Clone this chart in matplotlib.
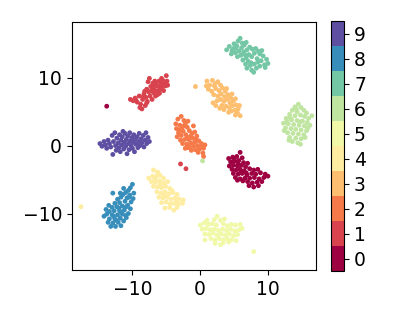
import numpy as np
import matplotlib
matplotlib.use("Agg")
import matplotlib.pyplot as plt

# embedding points, one list per digit label
pts_0 = [(5.9,-1.0),(4.2,-1.9),(4.8,-1.7),(5.4,-1.6),(6.2,-1.8),(4.5,-2.4),(5.1,-2.3),(5.7,-2.2),(6.4,-2.5),
         (7.0,-2.6),(4.3,-3.0),(4.9,-2.9),(5.5,-3.0),(6.1,-2.9),(6.7,-3.1),(4.7,-3.5),(5.3,-3.6),(5.9,-3.5),
         (6.5,-3.7),(7.3,-3.4),(7.9,-3.6),(8.5,-3.5),(4.9,-4.1),(5.6,-4.2),(6.2,-4.1),(6.9,-4.3),(7.6,-4.1),
         (8.2,-4.2),(8.9,-4.0),(9.6,-4.2),(5.2,-4.7),(5.9,-4.9),(6.6,-4.8),(7.3,-4.8),(8.0,-4.7),(8.7,-4.9),
         (9.4,-4.7),(10.0,-4.5),(6.3,-5.2),(7.0,-5.3),(7.7,-5.5),(8.4,-5.4),(9.1,-5.3),(7.9,-6.1),(8.6,-5.9),
         (5.5,-5.1),(6.0,-3.9),(5.0,-2.0),(6.8,-4.0),(7.2,-5.9),(5.6,-2.7),(-13.8,5.8)]
pts_1 = [(-10.3,6.8),(-9.9,6.6),(-9.6,7.0),(-9.3,6.4),(-9.0,7.3),(-8.8,6.1),(-8.6,5.4),(-8.5,6.8),(-8.3,7.6),
         (-8.1,5.9),(-8.0,7.1),(-7.9,8.3),(-7.8,6.5),(-7.6,7.9),(-7.5,9.9),(-7.4,7.3),(-7.3,8.7),(-7.1,6.8),
         (-7.0,9.2),(-6.9,7.8),(-6.8,8.4),(-6.6,7.3),(-6.5,9.0),(-6.4,8.0),(-6.2,8.7),(-6.1,9.5),(-6.0,7.7),
         (-5.9,8.3),(-5.8,9.1),(-5.6,8.6),(-5.5,9.6),(-5.4,8.1),(-5.3,9.2),(-5.1,8.8),(-5.0,10.3),(-4.9,9.5),
         (-4.8,8.9),(-7.7,9.4),(-8.2,8.0),(-6.7,9.5),(-7.2,8.1),(-9.5,6.7),(-8.9,5.6),(-6.3,7.5),(-5.7,9.9),
         (-6.9,8.9),(-7.9,6.3),(-8.4,7.2),(-2.9,-2.7),(-2.1,-3.4)]
pts_2 = [(-3.3,3.9),(-2.8,4.3),(-2.4,3.7),(-3.6,3.2),(-3.0,3.0),(-2.2,3.2),(-1.8,3.6),(-3.5,2.5),(-2.7,2.6),
         (-1.9,2.7),(-3.2,1.9),(-2.5,2.1),(-1.6,2.2),(-1.0,2.9),(-3.4,1.3),(-2.8,1.5),(-2.1,1.6),(-1.4,1.4),
         (-0.8,2.0),(-2.9,0.8),(-2.3,0.9),(-1.7,0.9),(-1.1,1.1),(-0.5,1.4),(-2.6,0.3),(-2.0,0.2),(-1.4,0.4),
         (-0.8,0.5),(-0.2,0.7),(-2.2,-0.4),(-1.6,-0.2),(-1.0,-0.1),(-0.4,0.0),(0.2,0.3),(-1.3,-0.7),(-0.7,-0.6),
         (-0.1,-0.5),(0.5,-0.4),(-0.3,-1.0),(0.4,-1.1),(0.5,-1.6),(-1.9,1.2),(-2.4,2.9),(-1.2,1.8),(0.1,-0.2),
         (-3.1,2.3),(-0.6,0.9),(-1.8,-0.3),(0.7,0.1)]
pts_3 = [(-0.7,8.7),(1.0,9.5),(1.4,8.9),(1.8,9.6),(2.2,9.1),(2.6,9.4),(3.0,8.9),(1.2,8.3),(1.7,8.0),(2.3,8.4),
         (2.8,8.1),(3.3,8.5),(3.7,8.0),(2.0,7.5),(2.6,7.3),(3.1,7.6),(3.6,7.2),(4.1,7.5),(4.5,7.0),(1.9,6.3),
         (2.5,6.6),(3.0,6.8),(3.5,6.5),(4.0,6.8),(4.4,6.3),(4.9,6.6),(3.2,5.9),(3.8,5.8),(4.3,5.6),(4.8,5.9),
         (5.3,6.0),(5.6,5.4),(4.6,5.1),(5.1,5.2),(5.5,4.8),(5.9,4.4),(4.2,4.9),(3.5,5.3),(5.2,4.5),(2.3,5.9),
         (0.9,8.8),(2.1,8.8),(3.9,8.4),(4.7,7.6),(5.2,6.9),(5.8,5.9),(2.9,5.5)]
pts_4 = [(-6.9,-3.6),(-6.3,-3.9),(-7.6,-4.8),(-7.0,-4.5),(-6.5,-4.6),(-5.9,-4.4),(-5.4,-4.8),(-7.2,-5.3),
         (-6.6,-5.4),(-6.0,-5.2),(-5.4,-5.5),(-4.8,-5.3),(-6.9,-6.0),(-6.3,-6.1),(-5.7,-6.2),(-5.1,-6.0),
         (-4.5,-6.3),(-6.4,-6.8),(-5.8,-7.0),(-5.2,-6.8),(-4.6,-7.1),(-4.0,-6.9),(-3.4,-7.2),(-6.1,-7.6),
         (-5.5,-7.7),(-4.9,-7.6),(-4.3,-7.9),(-3.7,-7.7),(-3.1,-7.9),(-2.5,-8.0),(-5.7,-8.4),(-5.0,-8.3),
         (-4.4,-8.6),(-3.8,-8.5),(-3.2,-8.6),(-2.6,-8.5),(-5.2,-9.2),(-4.5,-9.1),(-3.9,-9.5),(-3.4,-9.1),
         (-6.7,-5.0),(-5.9,-5.8),(-4.2,-6.6),(-3.5,-8.2),(-5.3,-7.3),(-6.2,-4.1),(-17.6,-9.0)]
pts_5 = [(2.5,-10.4),(2.1,-10.9),(3.0,-11.0),(0.0,-11.7),(0.6,-11.4),(1.2,-11.6),(1.8,-11.5),(2.4,-11.7),
         (3.4,-11.5),(4.0,-11.8),(4.6,-11.6),(5.2,-11.7),(5.9,-11.6),(0.3,-12.3),(0.9,-12.2),(1.5,-12.4),
         (2.1,-12.3),(2.7,-12.5),(3.3,-12.3),(3.9,-12.5),(4.5,-12.3),(5.1,-12.6),(5.7,-12.4),(6.2,-12.2),
         (0.7,-13.0),(1.3,-13.1),(1.9,-12.9),(2.5,-13.2),(3.1,-13.0),(3.7,-13.2),(4.3,-13.0),(4.9,-13.3),
         (5.5,-13.1),(0.7,-13.9),(1.6,-13.7),(2.2,-13.9),(2.8,-13.7),(3.4,-13.9),(4.0,-13.7),(4.6,-13.9),
         (2.2,-14.4),(3.0,-14.6),(3.4,-14.3),(4.2,-14.2),(1.0,-11.0),(3.6,-10.8),(7.9,-15.6),(5.3,-14.0)]
pts_6 = [(14.5,6.1),(14.0,5.7),(14.9,5.6),(15.3,5.2),(13.6,5.2),(14.3,5.0),(15.7,4.8),(13.2,4.6),(14.0,4.4),
         (14.8,4.5),(15.4,4.3),(16.0,4.0),(16.5,4.4),(12.7,4.0),(13.5,3.8),(14.3,3.7),(15.1,3.6),(15.8,3.4),
         (12.3,3.3),(13.0,3.2),(13.8,3.1),(14.6,3.0),(15.4,2.9),(16.2,3.0),(12.6,2.6),(13.4,2.5),(14.1,2.4),
         (14.9,2.3),(15.7,2.2),(12.9,1.9),(13.7,1.8),(14.5,1.7),(15.3,1.6),(13.2,1.2),(14.1,1.1),(14.9,1.0),
         (13.6,0.6),(14.4,0.4),(12.4,2.2),(15.5,1.2),(14.2,5.4),(13.3,4.1),(14.7,3.5),(15.9,2.6),(13.1,0.8),
         (14.8,0.2),(12.8,3.6),(0.35,-2.25)]
pts_7 = [(3.9,14.1),(4.3,14.6),(4.7,14.0),(5.0,15.0),(5.3,14.4),(5.6,15.4),(5.9,15.8),(6.2,15.1),(4.6,13.5),
         (5.2,13.7),(5.7,13.9),(6.1,14.4),(6.5,14.8),(6.8,15.2),(5.5,13.1),(6.0,13.3),(6.4,13.8),(6.9,14.1),
         (7.3,14.5),(7.7,14.2),(8.2,14.3),(9.1,14.0),(8.8,13.5),(6.3,12.6),(6.8,12.9),(7.2,13.4),(7.6,13.1),
         (8.0,13.6),(8.4,12.8),(9.3,13.2),(6.7,12.0),(7.1,12.4),(7.5,12.2),(8.0,12.0),(8.5,12.3),(9.0,12.5),
         (9.5,11.9),(10.0,12.1),(6.9,11.4),(7.6,11.1),(8.3,11.4),(8.8,11.7),(9.6,11.5),(7.9,10.8),(5.4,14.7),
         (6.6,13.4),(7.4,11.8),(8.6,13.9),(4.9,14.3),(9.8,12.7)]
pts_8 = [(-10.0,-5.7),(-10.3,-6.2),(-10.6,-6.6),(-9.8,-7.0),(-11.0,-6.9),(-10.4,-7.3),(-11.4,-7.2),
         (-9.9,-7.8),(-10.8,-7.7),(-11.7,-7.6),(-12.2,-7.9),(-10.2,-8.3),(-11.1,-8.2),(-11.9,-8.4),
         (-12.6,-8.5),(-10.7,-8.8),(-11.5,-8.9),(-12.3,-9.0),(-13.0,-9.1),(-10.3,-9.3),(-11.2,-9.5),
         (-11.9,-9.6),(-12.7,-9.6),(-13.4,-9.7),(-10.6,-10.0),(-11.5,-10.1),(-12.2,-10.2),(-13.0,-10.2),
         (-13.8,-10.1),(-14.2,-10.4),(-10.9,-10.6),(-11.8,-10.7),(-12.6,-10.8),(-13.4,-10.8),(-11.3,-11.1),
         (-12.1,-11.3),(-12.9,-11.4),(-13.6,-11.3),(-11.7,-11.8),(-12.5,-11.9),(-13.2,-11.9),(-12.9,-7.0),
         (-11.3,-6.3),(-12.0,-9.2),(-10.9,-9.0),(-13.5,-8.8),(-11.6,-9.9),(-12.4,-11.0),(-10.5,-7.6),
         (-12.8,-10.4),(-11.0,-10.3),(-13.9,-9.4),(-11.8,-7.0)]
pts_9 = [(-14.8,0.3),(-14.5,-0.1),(-14.2,0.6),(-14.0,0.1),(-13.8,-0.4),(-13.6,0.8),(-13.4,0.3),(-13.2,-0.2),
         (-13.0,1.5),(-12.9,-1.3),(-12.8,0.6),(-12.6,1.9),(-12.5,0.0),(-12.4,-0.7),(-12.3,1.1),(-12.1,0.4),
         (-12.0,-0.3),(-11.9,1.6),(-11.8,-0.9),(-11.7,0.8),(-11.6,0.1),(-11.5,1.3),(-11.4,2.1),(-11.3,-0.5),
         (-11.2,0.5),(-11.1,1.8),(-11.0,-0.1),(-10.9,0.9),(-10.8,-1.2),(-10.7,1.4),(-10.6,0.3),(-10.5,-0.6),
         (-10.4,1.9),(-10.3,0.7),(-10.2,0.0),(-10.1,1.2),(-10.0,-0.4),(-9.9,0.5),(-9.8,1.6),(-9.7,-0.9),
         (-9.6,0.9),(-9.5,0.2),(-9.3,1.3),(-9.2,-0.3),(-9.1,0.6),(-9.0,1.8),(-8.9,0.0),(-8.7,1.0),(-8.6,0.4),
         (-8.4,1.5),(-8.3,-0.2),(-8.1,0.8),(-8.0,1.9),(-7.9,0.3),(-7.7,1.2),(-7.5,0.6)]

groups = [pts_0, pts_1, pts_2, pts_3, pts_4, pts_5, pts_6, pts_7, pts_8, pts_9]
xy = np.array([p for g in groups for p in g])
labels = np.concatenate([np.full(len(g), i) for i, g in enumerate(groups)])

fig = plt.figure(figsize=(3.99, 3.19), dpi=100)
ax = fig.add_axes([0.180, 0.154, 0.612, 0.777])
sc = ax.scatter(xy[:, 0], xy[:, 1], c=labels, cmap='Spectral', s=6)
ax.set_xlim(-18.95, 17.1)
ax.set_ylim(-18.3, 18.2)
ax.set_xticks([-10, 0, 10])
ax.set_yticks([-10, 0, 10])
ax.tick_params(labelsize=13.5)

cax = fig.add_axes([0.830, 0.150, 0.033, 0.784])
cb = fig.colorbar(sc, cax=cax, boundaries=np.arange(11) - 0.5)
cb.set_ticks(np.arange(10))
cb.ax.tick_params(labelsize=13.5)

fig.savefig("out.png", dpi=100)
